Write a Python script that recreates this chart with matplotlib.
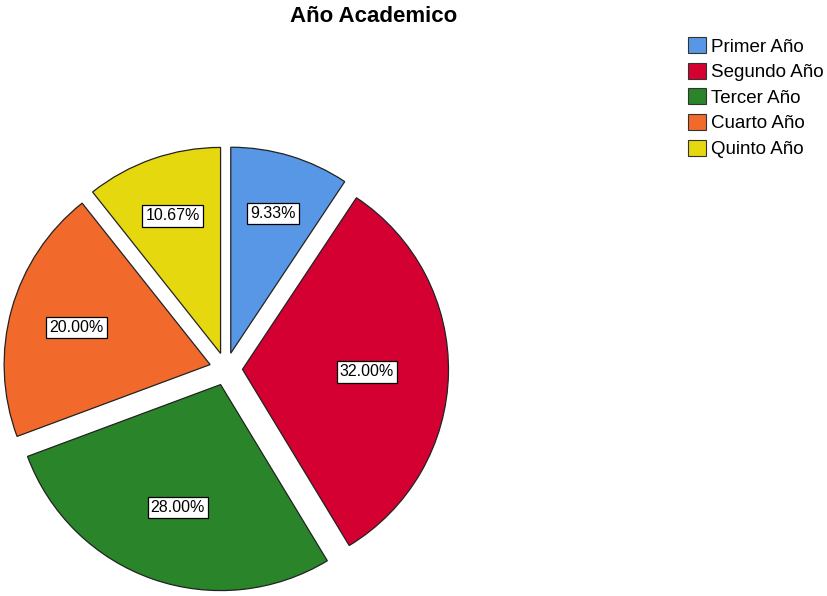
import numpy as np
import matplotlib.pyplot as plt
from matplotlib.patches import Patch

plt.rcParams['font.family'] = ['Liberation Sans', 'DejaVu Sans']

categorias = ['Primer Año', 'Segundo Año', 'Tercer Año', 'Cuarto Año', 'Quinto Año']
porcentajes = [9.33, 32.00, 28.00, 20.00, 10.67]
colores = ['#5897E6', '#D50032', '#2A852A', '#F2692C', '#E5D80F']

W, H = 828, 596
fig = plt.figure(figsize=(W / 100, H / 100), dpi=100)

# pie centre at (226, 369) px from top-left, radius ~206 px
cx, cy, rpx = 226, 369, 206
ax = fig.add_axes([0, 0, 1, 1])

expl = 0.08
wedges, _ = ax.pie(porcentajes, colors=colores, startangle=90, counterclock=False,
                   explode=[expl] * len(porcentajes), radius=1.0,
                   wedgeprops=dict(edgecolor='#222222', linewidth=0.9))
ax.set_aspect('auto')
ax.set_xlim(-cx / rpx, (W - cx) / rpx)
ax.set_ylim(-(H - cy) / rpx, cy / rpx)
ax.axis('off')

# percentage labels near each wedge centroid
for w, p in zip(wedges, porcentajes):
    th = np.deg2rad(w.theta2 - w.theta1)
    mid = np.deg2rad((w.theta1 + w.theta2) / 2)
    d = 1.08 * (2 / 3) * np.sin(th / 2) / (th / 2) + expl
    ax.text(d * np.cos(mid), d * np.sin(mid), f'{p:.2f}%', ha='center', va='center',
            fontsize=11.5,
            bbox=dict(boxstyle='square,pad=0.2', facecolor='white', edgecolor='black', linewidth=0.9))

fig.text(374 / W, 1 - 16 / H, 'Año Academico', ha='center', va='center',
         fontsize=16, fontweight='bold')

handles = [Patch(facecolor=c, edgecolor='#333333', linewidth=0.8) for c in colores]
fig.legend(handles, categorias, loc='upper left', bbox_to_anchor=(688 / W, 1 - 37 / H),
           frameon=False, fontsize=13.5, handlelength=0.95, handleheight=0.95,
           handletextpad=0.3, labelspacing=0.38, borderaxespad=0, borderpad=0)

fig.savefig('out.png', dpi=100)
